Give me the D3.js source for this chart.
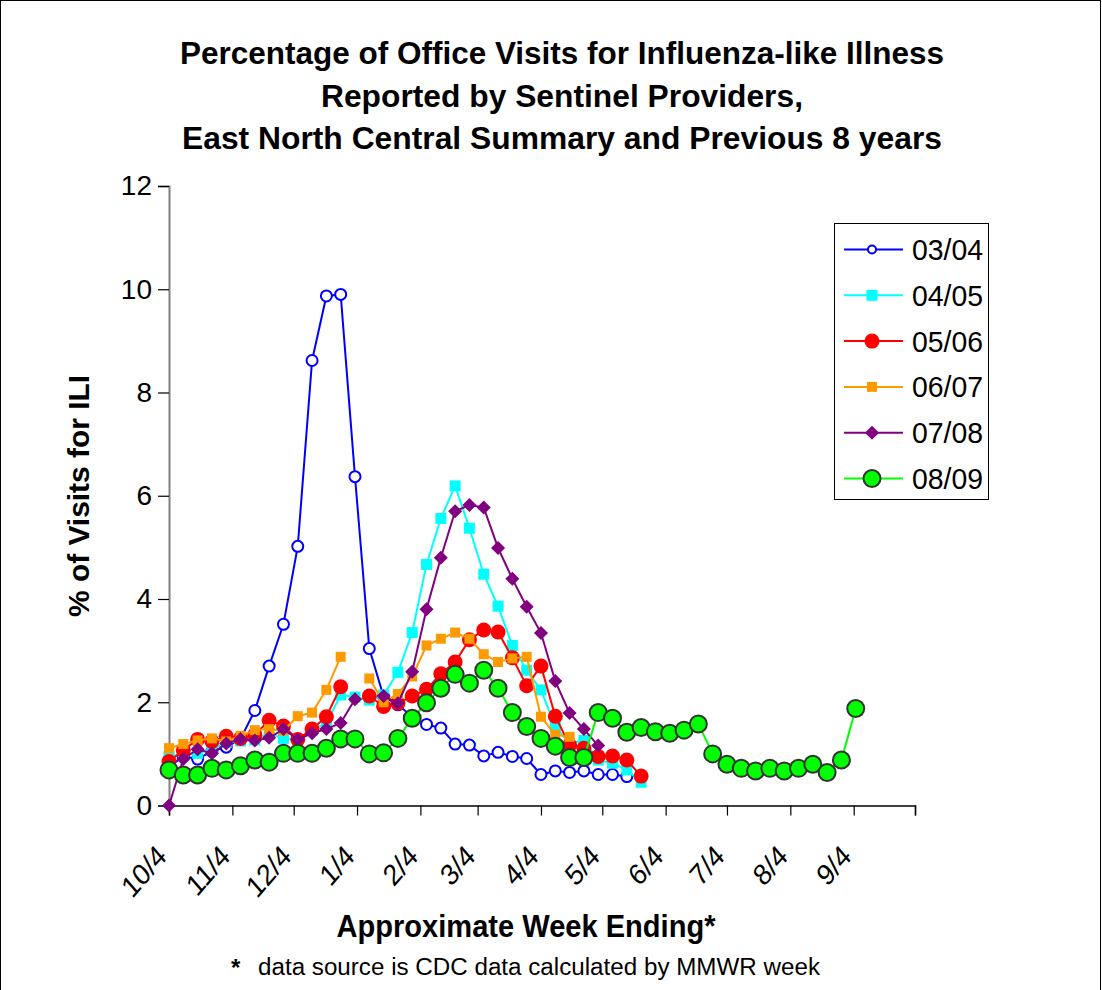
<!DOCTYPE html>
<html>
<head>
<meta charset="utf-8">
<script src="https://cdn.jsdelivr.net/npm/d3@7"></script>
<style>
  body { margin: 0; background: #fff; }
  svg { display: block; }
  text { font-family: "Liberation Sans", Arial, Helvetica, sans-serif; fill: #000; }
</style>
</head>
<body>
<svg id="chart" width="1102" height="990"></svg>
<script>
// ---- data: % of visits for ILI by MMWR week, weeks counted from the week ending 10/4 ----
const seasons = ["03/04", "04/05", "05/06", "06/07", "07/08", "08/09"];
const firstWeekEnding = "2008-10-04";
const tickLabels = ["10/4", "11/4", "12/4", "1/4", "2/4", "3/4", "4/4", "5/4", "6/4", "7/4", "8/4", "9/4"];
const yTicks = [0, 2, 4, 6, 8, 10, 12];

const ili0304 = [0.75, 0.95, 0.90, 1.05, 1.13, 1.29, 1.84, 2.70, 3.51, 5.02, 8.62, 9.87, 9.90, 6.37,
  3.04, 2.11, 1.95, 1.72, 1.57, 1.50, 1.19, 1.17, 0.96, 1.03, 0.95, 0.91, 0.60, 0.67, 0.64, 0.67,
  0.60, 0.60, 0.56];
const ili0405 = [0.95, 1.00, 1.01, 1.10, 1.22, 1.25, 1.27, 1.40, 1.30, 1.27, 1.45, 1.60, 2.14, 2.10,
  2.04, 2.14, 2.58, 3.35, 4.67, 5.56, 6.19, 5.37, 4.48, 3.86, 3.10, 2.62, 2.24, 1.53, 1.20, 1.26,
  0.88, 0.82, 0.69, 0.45];
const ili0506 = [0.85, 1.07, 1.28, 1.24, 1.34, 1.30, 1.37, 1.65, 1.54, 1.28, 1.48, 1.72, 2.30, null,
  2.12, 1.92, 1.98, 2.12, 2.25, 2.55, 2.78, 3.21, 3.40, 3.36, 2.86, 2.32, 2.70, 1.73, 1.17, 1.11,
  0.95, 0.96, 0.88, 0.57];
const ili0607 = [1.11, 1.19, 1.26, 1.30, 1.24, 1.35, 1.46, 1.48, 1.45, 1.73, 1.80, 2.24, 2.88, null,
  2.46, 2.00, 2.16, 2.50, 3.10, 3.23, 3.35, 3.23, 2.93, 2.78, 2.85, 2.88, 1.72, 1.37, 1.33];
const ili0708 = [0.00, 0.90, 1.09, 1.01, 1.20, 1.29, 1.26, 1.31, 1.48, 1.28, 1.40, 1.48, 1.60, 2.06,
  null, 2.12, 1.98, 2.59, 3.80, 4.80, 5.70, 5.82, 5.77, 4.99, 4.39, 3.85, 3.34, 2.41, 1.79, 1.48, 1.16];
const ili0809 = [0.69, 0.59, 0.59, 0.72, 0.69, 0.77, 0.88, 0.84, 1.01, 1.01, 1.01, 1.11, 1.29, 1.29,
  1.00, 1.02, 1.30, 1.69, 1.99, 2.27, 2.54, 2.37, 2.62, 2.27, 1.80, 1.53, 1.30, 1.15, 0.93, 0.93,
  1.80, 1.69, 1.42, 1.51, 1.43, 1.40, 1.46, 1.58, 1.00, 0.80, 0.72, 0.67, 0.72, 0.67, 0.72, 0.80,
  0.64, 0.88, 1.88];

const seriesValues = [ili0304, ili0405, ili0506, ili0607, ili0708, ili0809];

// marker look for each season
const styles = [
  { color: "#0000FF", marker: "circle", r: 5.5, fill: "#FFFFFF", stroke: "#0000FF", sw: 2, legendR: 4 },
  { color: "#00FFFF", marker: "square", size: 11, fill: "#00FFFF" },
  { color: "#FF0000", marker: "circle", r: 7.5, fill: "#FF0000", stroke: "none", sw: 0, legendR: 7.5 },
  { color: "#FF9900", marker: "square", size: 10, fill: "#FF9900" },
  { color: "#800080", marker: "diamond", size: 12, fill: "#800080" },
  { color: "#00FF00", marker: "circle", r: 8.5, fill: "#00FF00", stroke: "#333333", sw: 2, legendR: 8.5 }
];

const svg = d3.select("#chart");

// chart area frame
svg.append("rect").attr("x", 0.5).attr("y", 0.5).attr("width", 1100).attr("height", 1000)
  .attr("fill", "#fff").attr("stroke", "#000").attr("stroke-width", 1);

const parseDay = d3.timeParse("%Y-%m-%d");
const start = parseDay(firstWeekEnding);
const end = d3.timeYear.offset(start, 1);

const x = d3.scaleTime().domain([start, end]).range([169, 915]);
const y = d3.scaleLinear().domain([0, 12]).range([805.5, 186]);

const weekDate = i => d3.timeDay.offset(start, 7 * i);

// tick dates from the month/day labels
const tickDates = tickLabels.map(lbl => {
  const [m, d] = lbl.split("/").map(Number);
  return new Date(m >= 10 ? start.getFullYear() : start.getFullYear() + 1, m - 1, d);
});

// ---- axes ----
const yAxis = d3.axisLeft(y).tickValues(yTicks).tickSize(11).tickPadding(6).tickFormat(d3.format("d"));
const gy = svg.append("g").attr("transform", "translate(169,0)").call(yAxis);
gy.select(".domain").attr("stroke", "#808080").attr("stroke-width", 2);
gy.selectAll(".tick line").attr("stroke", "#000").attr("stroke-width", 1.2);
gy.selectAll(".tick text")
  .attr("font-size", 28).attr("fill", "#000")
  .attr("font-family", "'Liberation Sans', Arial, sans-serif");

const xAxis = d3.axisBottom(x).tickValues(tickDates.concat([end])).tickSize(10).tickFormat("");
const gx = svg.append("g").attr("transform", "translate(0,805.5)").call(xAxis);
gx.select(".domain").attr("stroke", "#000").attr("stroke-width", 1.5);
gx.selectAll(".tick line").attr("stroke", "#000").attr("stroke-width", 1.2);

// rotated month labels
svg.append("g").selectAll("text").data(tickDates).join("text")
  .attr("transform", d => `translate(${x(d) - 1},${858}) scale(1,1.15) rotate(-45)`)
  .attr("text-anchor", "end")
  .attr("font-size", 26)
  .text((d, i) => tickLabels[i]);

// ---- series ----
const line = d3.line()
  .defined(d => d.v != null)
  .x(d => x(d.date))
  .y(d => y(d.v));

function drawMarker(g, st, cx, cy, legend) {
  if (st.marker === "circle") {
    g.append("circle").attr("cx", cx).attr("cy", cy)
      .attr("r", legend ? st.legendR : st.r)
      .attr("fill", st.fill).attr("stroke", st.stroke).attr("stroke-width", st.sw);
  } else if (st.marker === "square") {
    const s = st.size;
    g.append("rect").attr("x", cx - s / 2).attr("y", cy - s / 2).attr("width", s).attr("height", s)
      .attr("fill", st.fill);
  } else {
    const h = st.size / 2 + 1;
    g.append("path")
      .attr("d", `M${cx},${cy - h}L${cx + h},${cy}L${cx},${cy + h}L${cx - h},${cy}Z`)
      .attr("fill", st.fill);
  }
}

seriesValues.forEach((vals, si) => {
  const st = styles[si];
  const pts = vals.map((v, i) => ({ date: weekDate(i), v }));
  const g = svg.append("g").attr("class", "series");
  g.append("path").attr("d", line(pts)).attr("fill", "none")
    .attr("stroke", st.color).attr("stroke-width", 2);
  pts.filter(p => p.v != null).forEach(p => drawMarker(g, st, x(p.date), y(p.v), false));
});

// ---- legend ----
const lg = svg.append("g");
lg.append("rect").attr("x", 834.5).attr("y", 223.5).attr("width", 154).attr("height", 276)
  .attr("fill", "#fff").attr("stroke", "#000").attr("stroke-width", 1);
seasons.forEach((name, i) => {
  const cy = 249.5 + i * 45.8;
  const st = styles[i];
  lg.append("line").attr("x1", 844).attr("x2", 903).attr("y1", cy).attr("y2", cy)
    .attr("stroke", st.color).attr("stroke-width", 2);
  drawMarker(lg, st, 872, cy, true);
  lg.append("text").attr("x", 912).attr("y", cy + 10.5)
    .attr("font-size", 29).attr("textLength", 71).attr("lengthAdjust", "spacingAndGlyphs")
    .text(name);
});

// ---- titles ----
const titleLines = [
  { t: "Percentage of Office Visits for Influenza-like Illness", y: 64, w: 764 },
  { t: "Reported by Sentinel Providers,", y: 107, w: 482 },
  { t: "East North Central Summary and Previous 8 years", y: 149, w: 760 }
];
titleLines.forEach(l => {
  svg.append("text").attr("x", 562).attr("y", l.y).attr("text-anchor", "middle")
    .attr("font-size", 31).attr("font-weight", "bold")
    .attr("textLength", l.w).attr("lengthAdjust", "spacingAndGlyphs")
    .text(l.t);
});

svg.append("text")
  .attr("transform", "translate(89,496) rotate(-90)")
  .attr("text-anchor", "middle").attr("font-size", 29).attr("font-weight", "bold")
  .attr("textLength", 242).attr("lengthAdjust", "spacingAndGlyphs")
  .text("% of Visits for ILI");

svg.append("text").attr("x", 526).attr("y", 937).attr("text-anchor", "middle")
  .attr("font-size", 32).attr("font-weight", "bold")
  .attr("textLength", 379).attr("lengthAdjust", "spacingAndGlyphs")
  .text("Approximate Week Ending*");

// footnote: bold asterisk, then the source note
svg.append("text").attr("x", 231).attr("y", 976).attr("font-size", 24).attr("font-weight", "bold")
  .text("*");
svg.append("text").attr("x", 258).attr("y", 975).attr("font-size", 23)
  .attr("textLength", 562).attr("lengthAdjust", "spacingAndGlyphs")
  .text("data source is CDC data calculated by MMWR week");
</script>
</body>
</html>
